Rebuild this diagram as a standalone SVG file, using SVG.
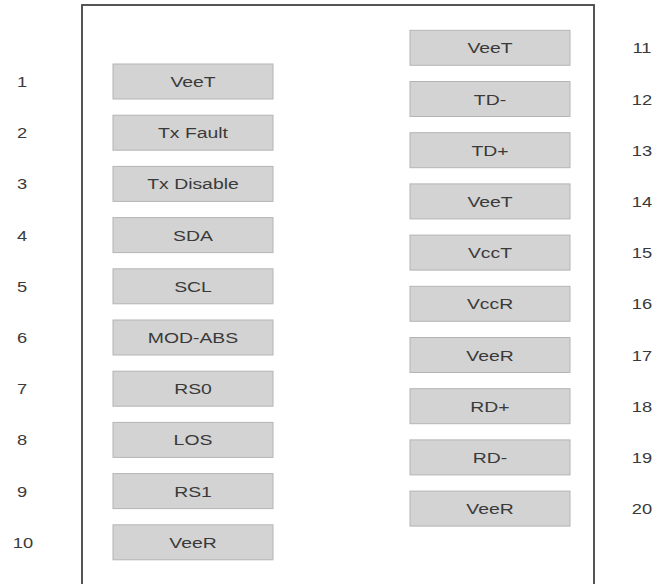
<svg xmlns="http://www.w3.org/2000/svg" width="655" height="584" viewBox="0 0 655 584">
<style>
.box{fill:#d3d3d3;stroke:#b4b4b4;stroke-width:1}
.t{font-family:"Liberation Sans",Arial,sans-serif;font-size:15.5px;fill:#3a3a3a;text-anchor:middle}
.n{font-family:"Liberation Sans",Arial,sans-serif;font-size:15.5px;fill:#3a3a3a;text-anchor:middle}
</style>
<rect width="655" height="584" fill="#fff"/>
<g id="module"><rect x="82" y="5" width="512" height="600" fill="none" stroke="#444" stroke-width="1.8"/></g>
<g id="connectors"></g>
<g id="pin1"><rect class="box" x="113" y="64" width="160" height="35"/><text class="t" transform="translate(193,87) scale(1.25,1)">VeeT</text><text class="n" transform="translate(22,87) scale(1.18,1)">1</text></g>
<g id="pin2"><rect class="box" x="113" y="115.2" width="160" height="35"/><text class="t" transform="translate(193,138.2) scale(1.25,1)">Tx Fault</text><text class="n" transform="translate(22,138.2) scale(1.18,1)">2</text></g>
<g id="pin3"><rect class="box" x="113" y="166.4" width="160" height="35"/><text class="t" transform="translate(193,189.4) scale(1.25,1)">Tx Disable</text><text class="n" transform="translate(22,189.4) scale(1.18,1)">3</text></g>
<g id="pin4"><rect class="box" x="113" y="217.6" width="160" height="35"/><text class="t" transform="translate(193,240.6) scale(1.25,1)">SDA</text><text class="n" transform="translate(22,240.6) scale(1.18,1)">4</text></g>
<g id="pin5"><rect class="box" x="113" y="268.8" width="160" height="35"/><text class="t" transform="translate(193,291.8) scale(1.25,1)">SCL</text><text class="n" transform="translate(22,291.8) scale(1.18,1)">5</text></g>
<g id="pin6"><rect class="box" x="113" y="320" width="160" height="35"/><text class="t" transform="translate(193,343) scale(1.25,1)">MOD-ABS</text><text class="n" transform="translate(22,343) scale(1.18,1)">6</text></g>
<g id="pin7"><rect class="box" x="113" y="371.2" width="160" height="35"/><text class="t" transform="translate(193,394.2) scale(1.25,1)">RS0</text><text class="n" transform="translate(22,394.2) scale(1.18,1)">7</text></g>
<g id="pin8"><rect class="box" x="113" y="422.4" width="160" height="35"/><text class="t" transform="translate(193,445.4) scale(1.25,1)">LOS</text><text class="n" transform="translate(22,445.4) scale(1.18,1)">8</text></g>
<g id="pin9"><rect class="box" x="113" y="473.6" width="160" height="35"/><text class="t" transform="translate(193,496.6) scale(1.25,1)">RS1</text><text class="n" transform="translate(22,496.6) scale(1.18,1)">9</text></g>
<g id="pin10"><rect class="box" x="113" y="524.8" width="160" height="35"/><text class="t" transform="translate(193,547.8) scale(1.25,1)">VeeR</text><text class="n" transform="translate(23,547.8) scale(1.18,1)">10</text></g>
<g id="pin11"><rect class="box" x="410" y="30.3" width="160" height="35"/><text class="t" transform="translate(490,53.3) scale(1.25,1)">VeeT</text><text class="n" transform="translate(642,53.3) scale(1.18,1)">11</text></g>
<g id="pin12"><rect class="box" x="410" y="81.5" width="160" height="35"/><text class="t" transform="translate(490,104.5) scale(1.25,1)">TD-</text><text class="n" transform="translate(642,104.5) scale(1.18,1)">12</text></g>
<g id="pin13"><rect class="box" x="410" y="132.7" width="160" height="35"/><text class="t" transform="translate(490,155.7) scale(1.25,1)">TD+</text><text class="n" transform="translate(642,155.7) scale(1.18,1)">13</text></g>
<g id="pin14"><rect class="box" x="410" y="183.9" width="160" height="35"/><text class="t" transform="translate(490,206.9) scale(1.25,1)">VeeT</text><text class="n" transform="translate(642,206.9) scale(1.18,1)">14</text></g>
<g id="pin15"><rect class="box" x="410" y="235.1" width="160" height="35"/><text class="t" transform="translate(490,258.1) scale(1.25,1)">VccT</text><text class="n" transform="translate(642,258.1) scale(1.18,1)">15</text></g>
<g id="pin16"><rect class="box" x="410" y="286.3" width="160" height="35"/><text class="t" transform="translate(490,309.3) scale(1.25,1)">VccR</text><text class="n" transform="translate(642,309.3) scale(1.18,1)">16</text></g>
<g id="pin17"><rect class="box" x="410" y="337.5" width="160" height="35"/><text class="t" transform="translate(490,360.5) scale(1.25,1)">VeeR</text><text class="n" transform="translate(642,360.5) scale(1.18,1)">17</text></g>
<g id="pin18"><rect class="box" x="410" y="388.7" width="160" height="35"/><text class="t" transform="translate(490,411.7) scale(1.25,1)">RD+</text><text class="n" transform="translate(642,411.7) scale(1.18,1)">18</text></g>
<g id="pin19"><rect class="box" x="410" y="439.9" width="160" height="35"/><text class="t" transform="translate(490,462.9) scale(1.25,1)">RD-</text><text class="n" transform="translate(642,462.9) scale(1.18,1)">19</text></g>
<g id="pin20"><rect class="box" x="410" y="491.1" width="160" height="35"/><text class="t" transform="translate(490,514.1) scale(1.25,1)">VeeR</text><text class="n" transform="translate(642,514.1) scale(1.18,1)">20</text></g>
</svg>
